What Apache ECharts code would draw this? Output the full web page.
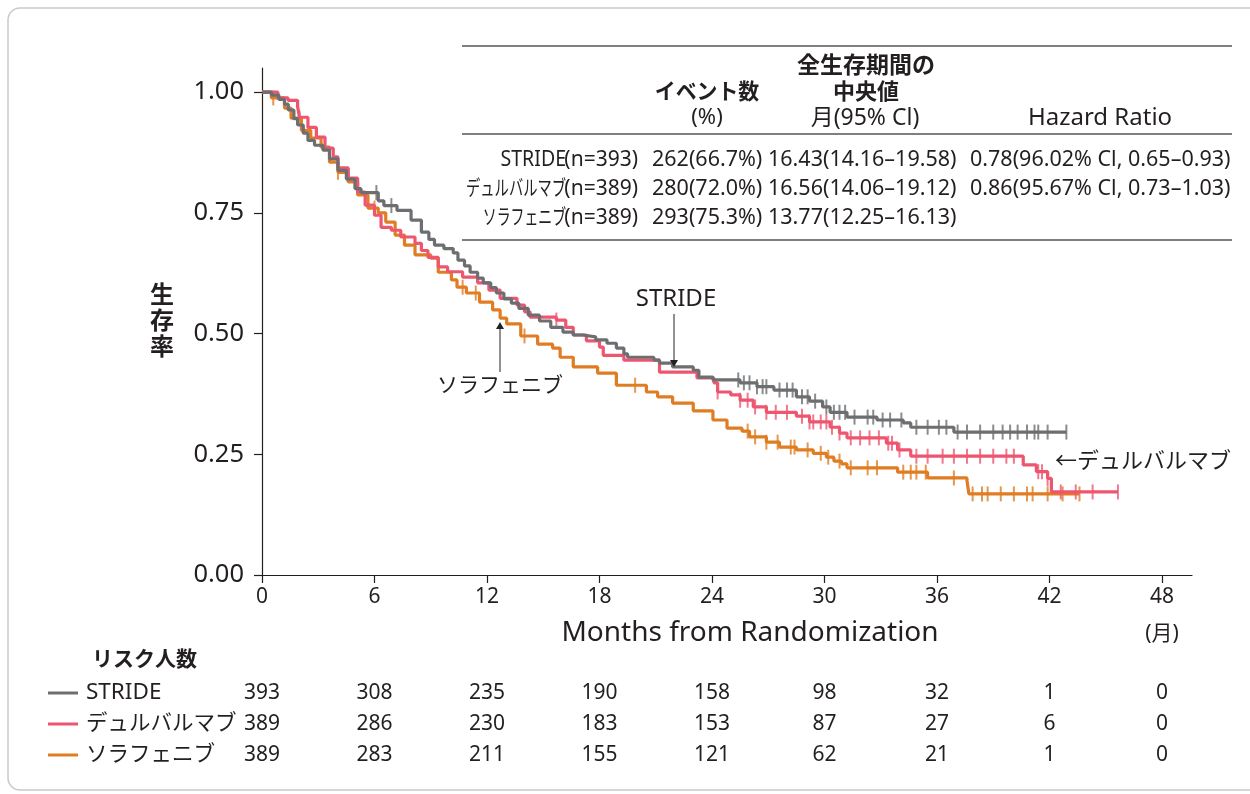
<!DOCTYPE html>
<html><head><meta charset="utf-8">
<script src="https://cdn.jsdelivr.net/npm/echarts@6/dist/echarts.min.js"></script>
<style>html,body{margin:0;padding:0;background:#fff}#c{width:1250px;height:794px}</style>
</head><body><div id="c"></div>
<script>
// ---- data ----
const seriesNames = ['STRIDE', 'デュルバルマブ', 'ソラフェニブ'];
const xTicks = [0, 6, 12, 18, 24, 30, 36, 42, 48];
const yTicks = [0, 0.25, 0.5, 0.75, 1.0];

const strideCurve = [[0,1],[0.5,0.994],[0.9,0.985],[1.2,0.975],[1.4,0.963],[1.7,0.945],[1.9,0.932],[2.2,0.915],[2.45,0.9],[2.8,0.89],[3.25,0.88],[3.6,0.862],[4.05,0.838],[4.5,0.82],[4.96,0.8],[5.28,0.792],[6.2,0.775],[6.5,0.765],[7.2,0.755],[7.95,0.735],[8.5,0.71],[8.9,0.695],[9.2,0.683],[9.7,0.676],[10.2,0.667],[10.45,0.652],[10.8,0.64],[11.1,0.627],[11.5,0.615],[11.8,0.605],[12.2,0.595],[12.5,0.584],[12.9,0.572],[13.3,0.563],[13.7,0.552],[14.2,0.538],[14.8,0.526],[15.4,0.513],[16.05,0.503],[16.6,0.497],[17.1,0.493],[17.8,0.487],[18.4,0.48],[18.9,0.47],[19.3,0.458],[19.5,0.451],[20.9,0.445],[21.2,0.439],[21.9,0.431],[23.0,0.424],[23.3,0.41],[24.05,0.404],[25.5,0.398],[26.4,0.39],[27.3,0.383],[28.5,0.369],[29.2,0.36],[29.9,0.348],[30.3,0.337],[31.2,0.327],[32.8,0.321],[34.2,0.315],[34.6,0.306],[36.9,0.296],[42.9,0.296]];
const durvaCurve = [[0,1],[0.85,0.988],[1.39,0.983],[1.9,0.97],[2.0,0.948],[2.45,0.927],[2.9,0.907],[3.36,0.884],[3.8,0.866],[4.05,0.843],[4.6,0.822],[5.1,0.793],[5.5,0.766],[6.0,0.745],[6.35,0.72],[6.9,0.714],[7.4,0.70],[8.16,0.687],[8.5,0.672],[8.85,0.658],[9.4,0.638],[9.9,0.628],[10.7,0.617],[11.5,0.605],[12.1,0.59],[12.7,0.573],[13.6,0.559],[14.0,0.545],[14.3,0.534],[15.7,0.528],[16.2,0.513],[16.6,0.497],[17.3,0.485],[18.0,0.472],[18.2,0.455],[19.3,0.445],[21.2,0.42],[23.2,0.408],[24.1,0.398],[24.3,0.379],[25.0,0.373],[25.5,0.362],[26.2,0.348],[26.9,0.337],[28.5,0.329],[29.2,0.317],[30.3,0.306],[30.8,0.294],[31.2,0.284],[33.3,0.273],[33.9,0.259],[34.6,0.246],[40.6,0.228],[41.3,0.214],[41.9,0.2],[42.1,0.172],[45.65,0.172]];
const soraCurve = [[0,1],[0.5,0.988],[1.2,0.967],[1.55,0.946],[2.1,0.921],[2.6,0.905],[3.15,0.886],[3.6,0.855],[4.05,0.834],[4.6,0.814],[5.1,0.787],[5.65,0.76],[6.2,0.75],[6.6,0.731],[7.1,0.704],[7.6,0.683],[8.16,0.663],[9.0,0.656],[9.4,0.627],[10.1,0.611],[10.4,0.596],[10.9,0.584],[11.6,0.565],[12.3,0.549],[12.7,0.532],[13.05,0.52],[13.8,0.495],[14.7,0.478],[15.5,0.47],[15.9,0.451],[16.6,0.431],[17.9,0.418],[18.9,0.393],[20.5,0.379],[21.1,0.369],[21.9,0.356],[23.0,0.34],[24.05,0.321],[24.8,0.304],[25.6,0.298],[26.0,0.286],[26.9,0.275],[27.6,0.265],[28.5,0.259],[29.4,0.252],[30.1,0.244],[30.5,0.236],[30.9,0.23],[31.2,0.222],[33.9,0.213],[35.5,0.201],[37.6,0.195],[37.7,0.168],[43.6,0.168]];

const strideCensor = [6.1,6.9,25.4,25.7,26.0,26.4,26.7,26.9,27.6,28.0,28.3,28.8,29.1,29.5,30.1,30.5,30.8,31.1,31.6,32.3,32.6,33.1,33.5,34.1,34.9,35.5,36.1,36.5,37.1,37.6,38.3,39.0,39.5,39.9,40.3,40.8,41.2,41.4,41.9,42.9];
const durvaCensor = [15.7,24.3,25.5,25.9,26.3,26.9,27.4,28.0,28.8,29.2,29.4,29.8,30.1,30.4,30.8,31.4,31.9,32.4,32.9,33.4,33.6,34.0,34.9,35.5,36.3,36.9,37.6,38.3,39.0,39.7,40.1,41.4,41.6,41.9,42.6,43.4,44.3,45.65];
const soraCensor = [0.6,2.0,4.05,6.0,10.7,11.4,14.0,19.9,25.9,26.3,26.9,27.5,28.2,28.4,29.1,29.8,30.2,30.8,31.4,32.3,32.8,34.2,34.6,34.9,35.4,36.9,37.9,38.4,38.7,39.4,40.1,40.8,41.1,41.9,42.7,43.6];

const riskStride = [393, 308, 235, 190, 158, 98, 32, 1, 0];
const riskDurva = [389, 286, 230, 183, 153, 87, 27, 6, 0];
const riskSora = [389, 283, 211, 155, 121, 62, 21, 1, 0];

const tableNames = ['STRIDE', 'デュルバルマブ', 'ソラフェニブ'];
const tableN = ['(n=393)', '(n=389)', '(n=389)'];
const tableEvents = ['262(66.7%)', '280(72.0%)', '293(75.3%)'];
const tableMedian = ['16.43(14.16–19.58)', '16.56(14.06–19.12)', '13.77(12.25–16.13)'];
const tableHR = ['0.78(96.02% Cl, 0.65–0.93)', '0.86(95.67% Cl, 0.73–1.03)', ''];

// ---- styling ----
const colors = ['#6d6e71', '#ee5670', '#e07d22'];
const FONT = '"Noto Sans", "Noto Sans CJK JP", sans-serif';
const TXT = '#231f20';

function valueAt(curve, t) {
  let v = curve[0][1];
  for (const p of curve) { if (p[0] <= t) v = p[1]; else break; }
  return v;
}
const curves = [strideCurve, durvaCurve, soraCurve];
const censors = [strideCensor, durvaCensor, soraCensor];
const risks = [riskStride, riskDurva, riskSora];

const chart = echarts.init(document.getElementById('c'), null, {renderer: 'canvas'});

const series = [];
curves.forEach((c, i) => {
  series.push({
    name: seriesNames[i], type: 'line', step: 'end', data: c, showSymbol: false,
    lineStyle: {color: colors[i], width: 3.2}, z: 3 - i + 2, silent: true, animation: false
  });
});
censors.forEach((cs, i) => {
  series.push({
    name: seriesNames[i] + '_c', type: 'scatter', symbol: 'rect', symbolSize: [2, 15],
    data: cs.map(t => [t, valueAt(curves[i], t)]),
    itemStyle: {color: colors[i]}, z: 3 - i + 2, silent: true, animation: false
  });
});

// graphics
const g = [];
g.push({type: 'rect', shape: {x: 8, y: 8, width: 1262, height: 782, r: 12}, style: {fill: 'none', stroke: '#c9c9c9', lineWidth: 1.5}, z: -10});
function txt(x, y, text, opt) {
  opt = opt || {};
  const el = {type: 'text', x: x, y: y, style: {text: text, font: (opt.bold ? 'bold ' : '') + (opt.size || 20) + 'px ' + FONT, fill: opt.color || TXT, align: opt.align || 'left', verticalAlign: 'middle'}, z: 10};
  if (opt.scaleX) el.scaleX = opt.scaleX;
  if (opt.lineHeight) el.style.lineHeight = opt.lineHeight;
  g.push(el);
}
function hline(x1, x2, y, w, c) {
  g.push({type: 'line', shape: {x1: x1, y1: y, x2: x2, y2: y}, style: {stroke: c || '#555', lineWidth: w || 1.3}, z: 10});
}
// table
hline(462, 1232, 46); hline(462, 1232, 134); hline(462, 1232, 240);
txt(866, 66, '全生存期間の', {bold: true, size: 23, align: 'center'});
txt(707, 93, 'イベント数', {bold: true, size: 22, align: 'center', scaleX: 0.95});
txt(866, 93, '中央値', {bold: true, size: 22, align: 'center'});
txt(707, 118, '(%)', {size: 22, align: 'center'});
txt(865, 118, '月(95% Cl)', {size: 23, align: 'center'});
txt(1100, 118, 'Hazard Ratio', {size: 24, align: 'center'});
const rowY = [160, 189, 218];
const nameScale = [0.93, 0.68, 0.66];
for (let i = 0; i < 3; i++) {
  txt(638, rowY[i], tableN[i], {size: 21, align: 'right'});
  txt(566, rowY[i], tableNames[i], {size: 21, align: 'right', scaleX: nameScale[i]});
  txt(652, rowY[i], tableEvents[i], {size: 21.5});
  txt(768, rowY[i], tableMedian[i], {size: 21.5});
  if (tableHR[i]) txt(970, rowY[i], tableHR[i], {size: 21.5});
}
// annotations
txt(676, 299, 'STRIDE', {size: 24, align: 'center'});
g.push({type: 'line', shape: {x1: 674, y1: 314, x2: 674, y2: 362}, style: {stroke: '#555', lineWidth: 1.3}, z: 10});
g.push({type: 'polygon', shape: {points: [[670, 360], [678, 360], [674, 367]]}, style: {fill: '#222'}, z: 10});
txt(500, 386, 'ソラフェニブ', {size: 21, align: 'center'});
g.push({type: 'line', shape: {x1: 500, y1: 372, x2: 500, y2: 328}, style: {stroke: '#555', lineWidth: 1.3}, z: 10});
g.push({type: 'polygon', shape: {points: [[496, 329], [504, 329], [500, 322]]}, style: {fill: '#222'}, z: 10});
txt(1055, 462, '←デュルバルマブ', {size: 22});
// axis names
txt(162, 322, '生\n存\n率', {bold: true, size: 24, align: 'center', lineHeight: 26});
txt(750, 633, 'Months from Randomization', {size: 28, align: 'center'});
txt(1162, 634, '(月)', {size: 21, align: 'center'});
// risk table
txt(92, 660, 'リスク人数', {bold: true, size: 21});
const riskY = [693, 724, 755];
for (let i = 0; i < 3; i++) {
  g.push({type: 'line', shape: {x1: 48, y1: riskY[i], x2: 78, y2: riskY[i]}, style: {stroke: colors[i], lineWidth: 3}, z: 10});
  txt(86, riskY[i], seriesNames[i], {size: i === 0 ? 22.5 : 21.5});
}

const option = {
  backgroundColor: '#fff',
  animation: false,
  textStyle: {fontFamily: FONT},
  grid: {left: 262, top: 68, width: 930, height: 507},
  xAxis: {
    type: 'value', min: 0, max: 49.6,
    axisLine: {lineStyle: {color: TXT, width: 1.2}},
    axisTick: {customValues: xTicks, length: 8, lineStyle: {color: TXT, width: 1.2}},
    axisLabel: {customValues: xTicks, fontSize: 21, color: TXT, margin: 12, fontFamily: FONT},
    splitLine: {show: false}
  },
  yAxis: {
    type: 'value', min: 0, max: 1.05,
    axisLine: {show: true, lineStyle: {color: TXT, width: 1.2}},
    axisTick: {show: true, customValues: yTicks, length: 8, lineStyle: {color: TXT, width: 1.2}},
    axisLabel: {customValues: yTicks, fontSize: 25.5, color: TXT, margin: 18, fontFamily: FONT, formatter: v => v.toFixed(2)},
    splitLine: {show: false}
  },
  series: series,
  graphic: g
};
chart.setOption(option);

// risk numbers placed through the x scale
const riskGraphics = [];
for (let i = 0; i < 3; i++) {
  risks[i].forEach((n, k) => {
    const px = chart.convertToPixel({xAxisIndex: 0}, xTicks[k]);
    riskGraphics.push({type: 'text', x: px, y: riskY[i], style: {text: String(n), font: '21px ' + FONT, fill: TXT, align: 'center', verticalAlign: 'middle'}, z: 10});
  });
}
chart.setOption({graphic: g.concat(riskGraphics)});
</script>
</body></html>
